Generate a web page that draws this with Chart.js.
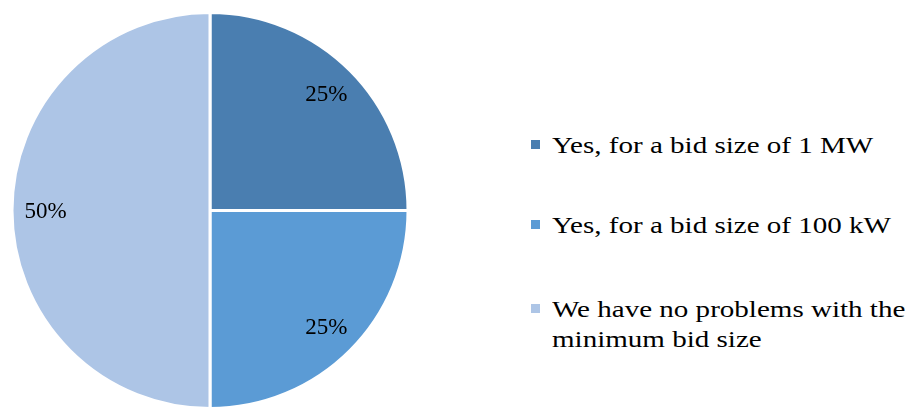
<!DOCTYPE html>
<html lang="en">

<head>
  <meta charset="UTF-8">
  <meta name="viewport" content="width=device-width, initial-scale=1.0">
  <title>Minimum bid size</title>
</head>
<style>
  html, body {
    margin: 0;
    padding: 0;
    background: #ffffff;
    overflow: hidden;
  }

  #wrap {
    position: relative;
    width: 913px;
    height: 410px;
  }

  #pieBox {
    position: absolute;
    left: 0;
    top: 0;
    width: 420px;
    height: 410px;
  }

  #legend {
    position: absolute;
    left: 531px;
    top: 130px;
    margin: 0;
    padding: 0;
    list-style: none;
    font-family: "Liberation Serif", "Times New Roman", serif;
    font-size: 24px;
    line-height: 30px;
    color: #000000;
  }

  #legend li {
    position: relative;
    padding-left: 21px;
    margin-bottom: 50px;
    white-space: nowrap;
  }

  #legend li:nth-child(2) {
    margin-bottom: 54px;
  }

  #legend .txt {
    display: inline-block;
    transform: scaleX(1.21);
    transform-origin: left top;
  }

  #legend .box {
    position: absolute;
    left: 0;
    top: 10px;
    width: 9px;
    height: 9px;
  }
</style>

<body>

  <div id="wrap">
    <div id="pieBox">
      <canvas id="bidChart" width="420" height="410"></canvas>
    </div>
    <ul id="legend"></ul>
  </div>

  <script src="https://cdn.jsdelivr.net/npm/chart.js@4.4.1/dist/chart.umd.min.js"></script>

  <script>
    const answers = [
      ['Yes, for a bid size of 1 MW'],
      ['Yes, for a bid size of 100 kW'],
      ['We have no problems with the', 'minimum bid size']
    ];
    const shares = [25, 25, 50];
    const sliceColors = ['#4a7eb0', '#5b9bd5', '#adc5e6'];

    // percent text inside each slice, a bit out from the middle
    const sliceLabels = {
      id: 'sliceLabels',
      afterDatasetsDraw(chart) {
        const ctx = chart.ctx;
        const meta = chart.getDatasetMeta(0);
        const total = shares.reduce((a, b) => a + b, 0);
        ctx.save();
        ctx.font = '23px "Liberation Serif", "Times New Roman", serif';
        ctx.fillStyle = '#000000';
        ctx.textAlign = 'center';
        ctx.textBaseline = 'middle';
        meta.data.forEach((arc, i) => {
          const p = arc.getProps(['x', 'y', 'startAngle', 'endAngle', 'outerRadius'], true);
          const mid = (p.startAngle + p.endAngle) / 2;
          const r = p.outerRadius * 0.83;
          const txt = Math.round(shares[i] / total * 100) + '%';
          ctx.fillText(txt, p.x + Math.cos(mid) * r, p.y + Math.sin(mid) * r + 1);
        });
        ctx.restore();
      }
    };

    new Chart('bidChart', {
      type: 'pie',
      data: {
        labels: answers,
        datasets: [{
          data: shares,
          backgroundColor: sliceColors,
          borderColor: '#ffffff',
          borderWidth: 3
        }]
      },
      options: {
        responsive: false,
        animation: false,
        layout: {
          padding: { left: 10, right: 10, top: 11, bottom: 0 }
        },
        plugins: {
          legend: { display: false },
          tooltip: { enabled: false }
        }
      },
      plugins: [sliceLabels]
    });

    // legend on the right
    const legend = document.getElementById('legend');
    answers.forEach((lines, i) => {
      const li = document.createElement('li');
      const box = document.createElement('span');
      box.className = 'box';
      box.style.background = sliceColors[i];
      li.appendChild(box);
      const txt = document.createElement('span');
      txt.className = 'txt';
      lines.forEach((line, j) => {
        if (j > 0) txt.appendChild(document.createElement('br'));
        txt.appendChild(document.createTextNode(line));
      });
      li.appendChild(txt);
      legend.appendChild(li);
    });
  </script>
</body>

</html>
